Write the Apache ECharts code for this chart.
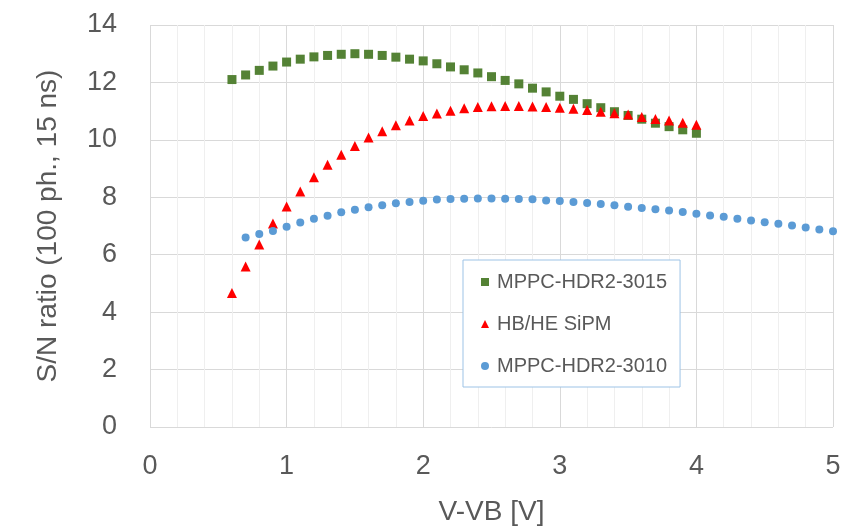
<!DOCTYPE html>
<html>
<head>
<meta charset="utf-8">
<script src="https://cdn.jsdelivr.net/npm/echarts@6/dist/echarts.min.js"></script>
<style>
  html, body { margin: 0; padding: 0; background: #fff; }
  #main { width: 852px; height: 531px; }
</style>
</head>
<body>
<div id="main"></div>
<script>
// S/N ratio vs overvoltage
var xHdr3015 = [0.6, 0.7, 0.8, 0.9, 1.0, 1.1, 1.2, 1.3, 1.4, 1.5, 1.6, 1.7, 1.8, 1.9, 2.0, 2.1, 2.2, 2.3, 2.4, 2.5, 2.6, 2.7, 2.8, 2.9, 3.0, 3.1, 3.2, 3.3, 3.4, 3.5, 3.6, 3.7, 3.8, 3.9, 4.0];
var yHdr3015 = [12.10, 12.26, 12.42, 12.57, 12.71, 12.81, 12.89, 12.94, 12.98, 13.00, 12.98, 12.94, 12.88, 12.81, 12.75, 12.65, 12.54, 12.44, 12.33, 12.20, 12.07, 11.95, 11.80, 11.67, 11.52, 11.41, 11.26, 11.12, 10.98, 10.85, 10.72, 10.58, 10.46, 10.35, 10.23];

var xHbhe = [0.6, 0.7, 0.8, 0.9, 1.0, 1.1, 1.2, 1.3, 1.4, 1.5, 1.6, 1.7, 1.8, 1.9, 2.0, 2.1, 2.2, 2.3, 2.4, 2.5, 2.6, 2.7, 2.8, 2.9, 3.0, 3.1, 3.2, 3.3, 3.4, 3.5, 3.6, 3.7, 3.8, 3.9, 4.0];
var yHbhe = [4.67, 5.59, 6.36, 7.09, 7.68, 8.20, 8.70, 9.13, 9.48, 9.79, 10.08, 10.30, 10.51, 10.67, 10.83, 10.92, 11.01, 11.10, 11.14, 11.17, 11.18, 11.18, 11.16, 11.14, 11.12, 11.08, 11.04, 10.98, 10.93, 10.88, 10.80, 10.73, 10.67, 10.60, 10.53];

var xHdr3010 = [0.7, 0.8, 0.9, 1.0, 1.1, 1.2, 1.3, 1.4, 1.5, 1.6, 1.7, 1.8, 1.9, 2.0, 2.1, 2.2, 2.3, 2.4, 2.5, 2.6, 2.7, 2.8, 2.9, 3.0, 3.1, 3.2, 3.3, 3.4, 3.5, 3.6, 3.7, 3.8, 3.9, 4.0, 4.1, 4.2, 4.3, 4.4, 4.5, 4.6, 4.7, 4.8, 4.9, 5.0];
var yHdr3010 = [6.60, 6.72, 6.83, 6.97, 7.12, 7.25, 7.36, 7.48, 7.57, 7.65, 7.72, 7.79, 7.84, 7.88, 7.92, 7.94, 7.95, 7.96, 7.96, 7.95, 7.94, 7.93, 7.89, 7.87, 7.84, 7.80, 7.77, 7.72, 7.67, 7.63, 7.58, 7.54, 7.49, 7.43, 7.37, 7.32, 7.25, 7.19, 7.13, 7.08, 7.02, 6.95, 6.88, 6.82];

var seriesNames = ['MPPC-HDR2-3015', 'HB/HE SiPM', 'MPPC-HDR2-3010'];

function pairs(xs, ys) {
    var out = [];
    for (var i = 0; i < xs.length; i++) {
        out.push([xs[i], ys[i]]);
    }
    return out;
}

var txt = '#595959';
var font = 'Liberation Sans';

var myChart = echarts.init(document.getElementById('main'));
var option = {
    backgroundColor: '#ffffff',
    animation: false,
    grid: { left: 150, right: 19, top: 25, bottom: 101 },
    legend: {
        orient: 'vertical',
        left: 463,
        top: 260,
        padding: [11, 13, 10, 18],
        itemGap: 20,
        itemWidth: 8,
        itemHeight: 8,
        backgroundColor: '#ffffff',
        borderColor: '#9dc3e6',
        borderWidth: 1,
        textStyle: { color: txt, fontSize: 20, fontFamily: font, lineHeight: 22, padding: [0, 0, 0, 3] },
        data: [
            { name: seriesNames[0], icon: 'rect' },
            { name: seriesNames[1], icon: 'triangle' },
            { name: seriesNames[2], icon: 'circle' }
        ]
    },
    xAxis: {
        type: 'value',
        min: 0,
        max: 5,
        interval: 1,
        name: 'V-VB [V]',
        nameLocation: 'middle',
        nameGap: 71,
        nameTextStyle: { color: txt, fontSize: 28, fontFamily: font },
        axisLine: { show: false },
        axisTick: { show: false },
        axisLabel: { color: txt, fontSize: 27, fontFamily: font, margin: 26 },
        splitLine: { show: true, lineStyle: { color: '#d9d9d9', width: 1 } },
        minorTick: { show: false, splitNumber: 5 },
        minorSplitLine: { show: true, lineStyle: { color: '#efefef', width: 1 } }
    },
    yAxis: {
        type: 'value',
        min: 0,
        max: 14,
        interval: 2,
        name: 'S/N ratio (100 ph., 15 ns)',
        nameLocation: 'middle',
        nameGap: 88,
        nameTextStyle: { color: txt, fontSize: 28, fontFamily: font },
        axisLine: { show: false },
        axisTick: { show: false },
        axisLabel: { color: txt, fontSize: 27, fontFamily: font, margin: 33 },
        splitLine: { show: true, lineStyle: { color: '#d9d9d9', width: 1 } }
    },
    series: [
        {
            name: seriesNames[0],
            type: 'scatter',
            symbol: 'rect',
            symbolSize: 9,
            itemStyle: { color: '#548235', opacity: 1 },
            data: pairs(xHdr3015, yHdr3015)
        },
        {
            name: seriesNames[1],
            type: 'scatter',
            symbol: 'triangle',
            symbolSize: 10,
            itemStyle: { color: '#ff0000', opacity: 1 },
            data: pairs(xHbhe, yHbhe)
        },
        {
            name: seriesNames[2],
            type: 'scatter',
            symbol: 'circle',
            symbolSize: 8,
            clip: false,
            itemStyle: { color: '#5b9bd5', opacity: 1 },
            data: pairs(xHdr3010, yHdr3010)
        }
    ]
};
myChart.setOption(option);
</script>
</body>
</html>
